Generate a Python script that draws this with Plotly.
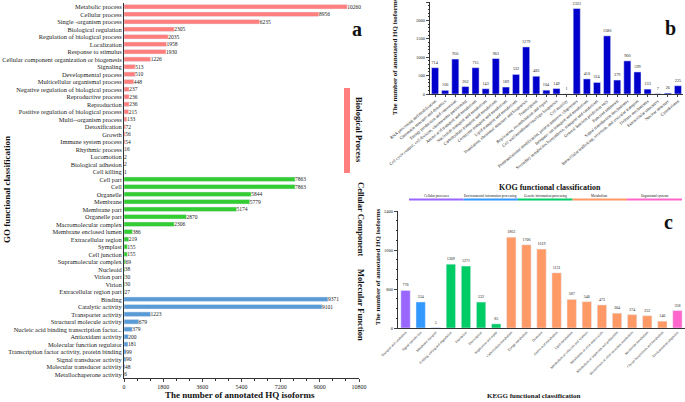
import plotly.graph_objects as go

W, H = 685, 402
def px(x): return x / W
def py(y): return 1 - y / H

FONT = "Liberation Serif"

# ---------------- GO (panel a) ----------------
bp_names = ["Metabolic process", "Cellular process", "Single -organism process", "Biological regulation",
            "Regulation of biological process", "Localization", "Response to stimulus",
            "Cellular component organization or biogenesis", "Signaling", "Developmental process",
            "Multicellular organismal process", "Negative regulation of biological process",
            "Reproductive process", "Reproduction", "Positive regulation of biological process",
            "Multi--organism process", "Detoxification", "Growth", "Immune system process",
            "Rhythmic process", "Locomotion", "Biological adhesion", "Cell killing"]
bp_vals = [10260, 8956, 6235, 2305, 2035, 1958, 1930, 1226, 513, 510, 448, 237, 236, 236, 215,
           133, 72, 56, 54, 16, 2, 2, 1]
cc_names = ["Cell part", "Cell", "Organelle", "Membrane", "Membrane part", "Organelle part",
            "Macromolecular complex", "Membrane enclosed lumen", "Extracellular region", "Symplast",
            "Cell junction", "Supramolecular complex", "Nucleoid", "Virion part", "Virion",
            "Extracellular region part"]
cc_vals = [7863, 7863, 5844, 5779, 5174, 2870, 2306, 386, 219, 155, 155, 69, 38, 30, 30, 27]
mf_names = ["Binding", "Catalytic activity", "Transporter activity", "Structural molecule activity",
            "Nucleic acid binding transcription factor...", "Antioxidant activity",
            "Molecular function regulator", "Transcription factor activity, protein binding",
            "Signal transducer activity", "Molecular transducer activity", "Metallochaperone activity"]
mf_vals = [9371, 9101, 1223, 679, 379, 200, 181, 99, 90, 48, 6]
go_ticks = [0, 1800, 3600, 5400, 7200, 9000, 10800]

# ---------------- KOG (panel b) ----------------
kog_names = ["RNA processing and modification", "Chromatin structure and dynamics",
             "Energy production and conversion",
             "Cell cycle control, cell division, chromosome partitioning",
             "Amino acid transport and metabolism", "Nucleotide transport and metabolism",
             "Carbohydrate transport and metabolism", "Coenzyme transport and metabolism",
             "Lipid transport and metabolism", "Translation, ribosomal structure and biogenesis",
             "Transcription", "Replication, recombination and repair",
             "Cell wall/membrane/envelope biogenesis", "Cell motility",
             "Posttranslational modification, protein turnover, chaperones",
             "Inorganic ion transport and metabolism",
             "Secondary metabolites biosynthesis, transport and catabolism",
             "General function prediction only", "Function unknown",
             "Signal transduction mechanisms",
             "Intracellular trafficking, secretion, and vesicular transport",
             "Defense mechanisms", "Extracellular structures", "Nuclear structure", "Cytoskeleton"]
kog_vals = [714, 100, 950, 202, 715, 143, 963, 189, 532, 1279, 483, 104, 149, 1, 2323, 410, 314,
            1580, 379, 900, 599, 133, 7, 26, 225]
kog_ticks = [0, 500, 1000, 1500, 2000, 2500]

# ---------------- KEGG (panel c) ----------------
kegg_names = ["Transport and catabolism", "Signal transduction", "Membrane transport",
              "Folding, sorting and degradation", "Translation", "Transcription",
              "Replication and repair", "Carbohydrate metabolism", "Energy metabolism", "Overview",
              "Amino acid metabolism", "Lipid metabolism", "Metabolism of cofactors and vitamins",
              "Metabolism of other amino acids", "Metabolism of terpenoids and polyketides",
              "Biosynthesis of other secondary metabolites", "Nucleotide metabolism",
              "Glycan biosynthesis and metabolism", "Environmental adaptation"]
kegg_vals = [770, 534, 5, 1309, 1271, 532, 85, 1863, 1706, 1619, 1131, 587, 540, 473, 304, 274,
             252, 140, 358]
kegg_group = ["Cellular processes", "Environmental information processing",
              "Environmental information processing", "Genetic information processing",
              "Genetic information processing", "Genetic information processing",
              "Genetic information processing", "Metabolism", "Metabolism", "Metabolism",
              "Metabolism", "Metabolism", "Metabolism", "Metabolism", "Metabolism", "Metabolism",
              "Metabolism", "Metabolism", "Organismal systems"]
kegg_groups = ["Cellular processes", "Environmental information processing",
               "Genetic information processing", "Metabolism", "Organismal systems"]
kegg_ticks = [0, 800, 1600, 2400]

group_colors = {"Cellular processes": "#9966FF",
                "Environmental information processing": "#3399FF",
                "Genetic information processing": "#00CC66",
                "Metabolism": "#FF9966",
                "Organismal systems": "#FF66CC"}

fig = go.Figure()

go_all = bp_names + cc_names + mf_names
for names, vals, col in [(bp_names, bp_vals, "#FF7F7F"), (cc_names, cc_vals, "#33CC33"),
                         (mf_names, mf_vals, "#5B9BD5")]:
    fig.add_trace(go.Bar(x=vals, y=names, orientation="h", marker_color=col, width=0.62,
                         text=[str(v) for v in vals], textposition="outside",
                         textfont=dict(size=5.5, family=FONT, color="#222"),
                         constraintext="none", cliponaxis=False, showlegend=False,
                         xaxis="x", yaxis="y"))

fig.add_trace(go.Bar(x=kog_names, y=kog_vals, marker_color="#0000CC", width=0.7,
                     text=[str(v) for v in kog_vals], textposition="outside",
                     textfont=dict(size=4.2, family=FONT, color="#222"),
                     constraintext="none", cliponaxis=False, showlegend=False,
                     xaxis="x2", yaxis="y2"))

fig.add_trace(go.Bar(x=kegg_names, y=kegg_vals,
                     marker_color=[group_colors[g] for g in kegg_group], width=0.62,
                     text=[str(v) for v in kegg_vals], textposition="outside",
                     textfont=dict(size=4.0, family=FONT, color="#222"),
                     constraintext="none", cliponaxis=False, showlegend=False,
                     xaxis="x3", yaxis="y3"))

axis_common = dict(showline=True, linecolor="#333", linewidth=1, showgrid=False, zeroline=False,
                   automargin=False)

fig.update_layout(
    width=W, height=H, margin=dict(l=0, r=0, t=0, b=0, autoexpand=False),
    paper_bgcolor="white", plot_bgcolor="white", barmode="overlay",
    font=dict(family=FONT, color="#222"),
    xaxis=dict(domain=[px(124), px(359)], anchor="y", range=[0, 10800], tickvals=go_ticks,
               tickformat="d", ticks="outside", ticklen=3, tickfont=dict(size=6, family=FONT),
               minor=dict(dtick=600, ticks="outside", ticklen=2, tickcolor="#333"), **axis_common),
    yaxis=dict(domain=[py(378), py(3)], anchor="x", type="category", categoryorder="array",
               categoryarray=go_all, range=[len(go_all) - 0.5, -0.5],
               tickmode="array", tickvals=go_all, ticktext=go_all,
               tickfont=dict(size=6.4, family=FONT), ticks="", **axis_common),
    xaxis2=dict(domain=[px(430), px(683)], anchor="y2", type="category", tickangle=-40,
                tickmode="array", tickvals=kog_names, ticktext=kog_names,
                tickfont=dict(size=4.3, family=FONT), ticks="outside", ticklen=2, **axis_common),
    yaxis2=dict(domain=[py(94), py(2)], anchor="x2", range=[0, 2500], tickvals=kog_ticks,
                ticks="outside", ticklen=3, tickfont=dict(size=4.5, family=FONT),
                minor=dict(dtick=100, ticks="outside", ticklen=1.5, tickcolor="#333"), **axis_common),
    xaxis3=dict(domain=[px(398), px(685)], anchor="y3", type="category", tickangle=-45,
                tickmode="array", tickvals=kegg_names, ticktext=kegg_names,
                tickfont=dict(size=3.4, family=FONT), ticks="", **axis_common),
    yaxis3=dict(domain=[py(328), py(211)], anchor="x3", range=[0, 2400], tickvals=kegg_ticks,
                ticks="outside", ticklen=3, tickfont=dict(size=4.5, family=FONT),
                minor=dict(dtick=200, ticks="outside", ticklen=1.5, tickcolor="#333"), **axis_common),
)

ann = []
def A(text, x, y, size, angle=0, bold=True, color="#111"):
    t = f"<b>{text}</b>" if bold else text
    ann.append(dict(text=t, x=px(x), y=py(y), xref="paper", yref="paper", showarrow=False,
                    textangle=angle, font=dict(size=size, family=FONT, color=color),
                    xanchor="center", yanchor="middle"))

A("GO functional classification", 7, 190, 9, -90)
A("The number of annotated HQ isoforms", 240, 395, 9)
A("a", 357, 29, 20)
A("Biological Process", 359, 130, 8.5, 90)
A("Cellular Component", 361, 219, 8.5, 90)
A("Molecular Function", 361, 305, 8.5, 90)
A("The number of annotated HQ isoforms", 395, 57, 7, -90)
A("KOG functional classification", 550, 187, 8)
A("b", 670, 28, 20)
A("The number of annotated HQ isoforms", 378, 267, 7, -90)
A("KEGG functional classification", 533, 396, 7)
A("c", 668, 222, 20)

shapes = [dict(type="rect", xref="paper", yref="paper", x0=px(344), x1=px(350), y0=py(173),
               y1=py(88), fillcolor="#FF7F7F", line=dict(width=0))]
seg_x = [409, 463.5, 518, 572.5, 627, 682]
for i, g in enumerate(kegg_groups):
    shapes.append(dict(type="line", xref="paper", yref="paper", x0=px(seg_x[i]), x1=px(seg_x[i + 1]),
                       y0=py(199.5), y1=py(199.5), line=dict(color=group_colors[g], width=2)))
    A(g, (seg_x[i] + seg_x[i + 1]) / 2, 195.5, 3.4, bold=False)

fig.update_layout(annotations=ann, shapes=shapes)
fig.write_html("out.html", config={"displayModeBar": False},
               post_script="document.body.style.margin='0';document.body.style.overflow='hidden';")
